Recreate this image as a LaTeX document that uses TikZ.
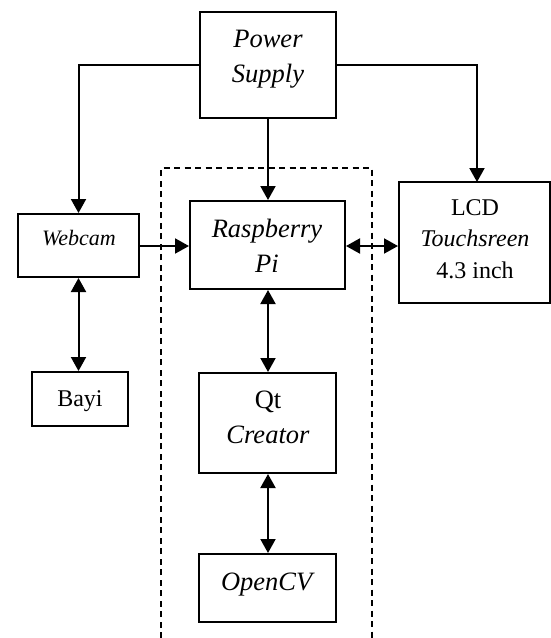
\documentclass[tikz,border=0pt]{standalone}
\usepackage{fontspec}
\setmainfont{Liberation Serif}
\usetikzlibrary{arrows.meta}
\begin{document}
\begin{tikzpicture}[x=1pt,y=-1pt,
  box/.style={draw=black,line width=2pt,fill=white,inner sep=0pt},
  txt/.style={anchor=base,inner sep=0pt,font=\fontsize{26.5}{32}\selectfont},
  ltxt/.style={anchor=base,inner sep=0pt,font=\fontsize{24}{30}\selectfont},
  stxt/.style={anchor=base,inner sep=0pt,font=\fontsize{22}{26}\selectfont},
  conn/.style={line width=2pt,-{Triangle[length=14pt,width=15pt]}},
  dconn/.style={line width=2pt,{Triangle[length=14pt,width=15pt]}-{Triangle[length=14pt,width=15pt]}},
  group/.style={line width=1.5pt,dash pattern=on 6pt off 4.5pt}]
\useasboundingbox (0,0) rectangle (551,638);
% dashed group
\draw[group] (161,638) -- (161,168) -- (372,168) -- (372,638);
% boxes
\node[box,minimum width=136pt,minimum height=106pt] (ps) at (268,65) {};
\node[box,minimum width=121pt,minimum height=63pt] (wc) at (78.5,245.5) {};
\node[box,minimum width=96pt,minimum height=54pt] (bayi) at (80,399) {};
\node[box,minimum width=155pt,minimum height=88pt] (rpi) at (267.5,245) {};
\node[box,minimum width=151pt,minimum height=121pt] (lcd) at (474.5,242.5) {};
\node[box,minimum width=137pt,minimum height=100pt] (qt) at (267.5,423) {};
\node[box,minimum width=137pt,minimum height=68pt] (cv) at (267.5,588) {};
% texts
\node[txt] (psA) at (268,47) {\textit{Power}};
\node[txt] (psB) at (268,82) {\textit{Supply}};
\node[stxt] (wcA) at (79,245) {\textit{Webcam}};
\node[ltxt] (bayiA) at (80,406) {Bayi};
\node[txt] (rpiA) at (267,237) {\textit{Raspberry}};
\node[txt] (rpiB) at (267,272) {\textit{Pi}};
\node[ltxt] (lcdA) at (475,215) {LCD};
\node[ltxt] (lcdB) at (475,246.5) {\textit{Touchsreen}};
\node[ltxt] (lcdC) at (475,278) {4.3 inch};
\node[txt] (qtA) at (268,408) {Qt};
\node[txt] (qtB) at (268,443) {\textit{Creator}};
\node[txt] (cvA) at (268,590) {\textit{OpenCV}};
% connectors
\coordinate (lcdin) at (477,182);
\draw[conn] (ps.west) -| (wc.north);
\draw[conn] (ps.east) -| (lcdin);
\draw[conn] (ps.south) -- (rpi.north -| ps.south);
\draw[conn] (wc.east |- 0,246) -- (rpi.west |- 0,246);
\draw[dconn] (wc.south) -- (wc.south |- bayi.north);
\draw[dconn] (rpi.east |- 0,246) -- (lcd.west |- 0,246);
\draw[dconn] (rpi.south -| 268,0) -- (qt.north -| 268,0);
\draw[dconn] (qt.south -| 268,0) -- (cv.north -| 268,0);
\end{tikzpicture}
\end{document}
